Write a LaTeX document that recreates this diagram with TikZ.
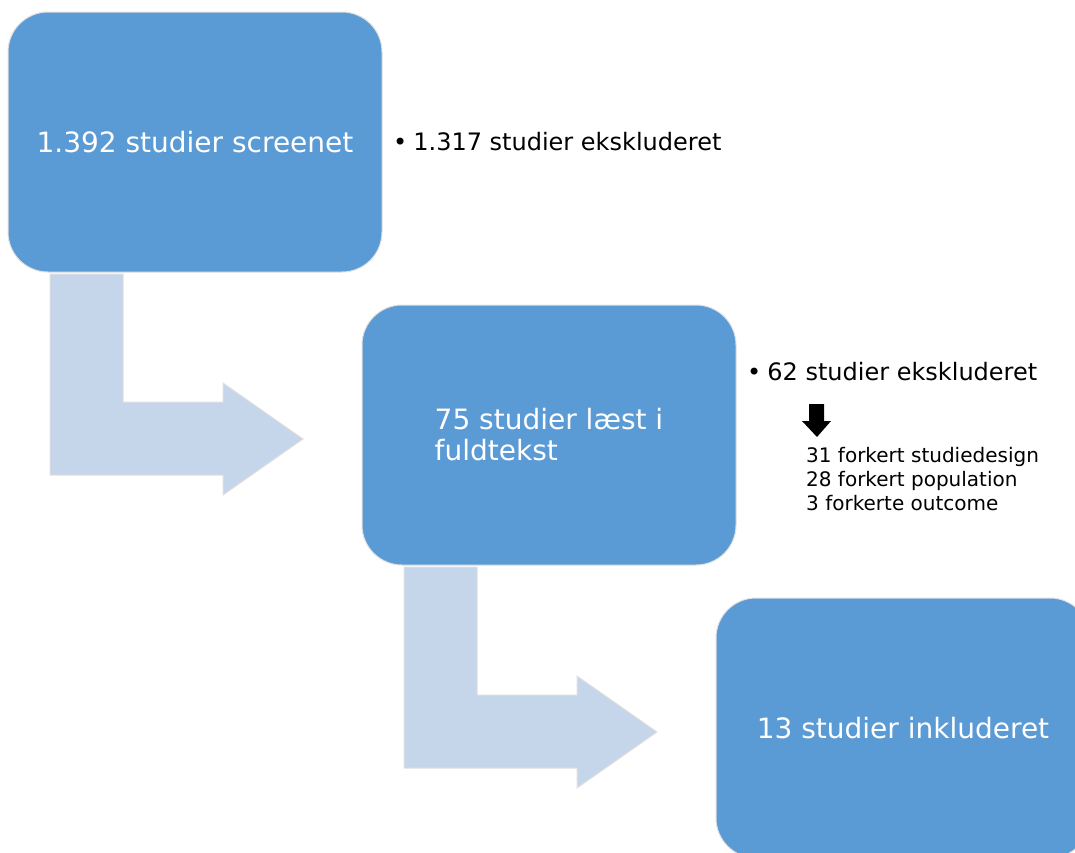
\documentclass[tikz,border=0pt]{standalone}
\usepackage{fontspec}
\setmainfont{DejaVu Sans}
\usetikzlibrary{positioning}
\definecolor{boxblue}{HTML}{5B9BD5}
\definecolor{arrowblue}{HTML}{C5D5EA}
\tikzset{
  stage/.style={draw=black!12, line width=1pt, fill=boxblue, rounded corners=40pt,
    minimum width=374pt, minimum height=260pt, outer sep=0pt, text=white,
    font=\fontsize{28}{31}\selectfont, align=left},
  excl/.style={anchor=west, inner sep=0pt, font=\fontsize{24}{29}\selectfont},
  reasons/.style={anchor=north west, inner sep=0pt, align=left, font=\fontsize{20}{24}\selectfont},
  bentarrow/.style={fill=arrowblue, draw=black!12, line width=1pt},
}
\begin{document}
\begin{tikzpicture}[x=1pt, y=-1pt]
	\clip (0,0) rectangle (1075,852);

	\node[stage] (screen) at (195,142) {1.392 studier screenet};
	\node[stage, below right=33pt and -20pt of screen] (fulltext) {75 studier læst i\\fuldtekst};
	\node[stage, below right=33pt and -20pt of fulltext] (incl) {13 studier inkluderet};

	% bent arrows between the stages
	\filldraw[bentarrow, shift={(screen.south west)}] (42,2) -- (115,2) -- (115,130) -- (215,130) -- (215,111)
		-- (295,167) -- (215,223) -- (215,203) -- (42,203) -- cycle;
	\filldraw[bentarrow, shift={(fulltext.south west)}] (42,2) -- (115,2) -- (115,130) -- (215,130) -- (215,111)
		-- (295,167) -- (215,223) -- (215,203) -- (42,203) -- cycle;

	\node[excl, right=11pt of screen] (excl1) {•\hspace{6pt}1.317 studier ekskluderet};
	\node[excl] (excl2) at ([xshift=11pt, yshift=-67pt]fulltext.north east) {•\hspace{6pt}62 studier ekskluderet};

	\fill[shift={(fulltext.north east)}] (73,99) -- (88,99) -- (88,116) -- (95,116) -- (81,132)
		-- (66,116) -- (73,116) -- cycle;

	\node[reasons] (reasons) at ([xshift=70pt, yshift=-142pt]fulltext.north east)
		{31 forkert studiedesign\\28 forkert population\\3 forkerte outcome};
\end{tikzpicture}
\end{document}
